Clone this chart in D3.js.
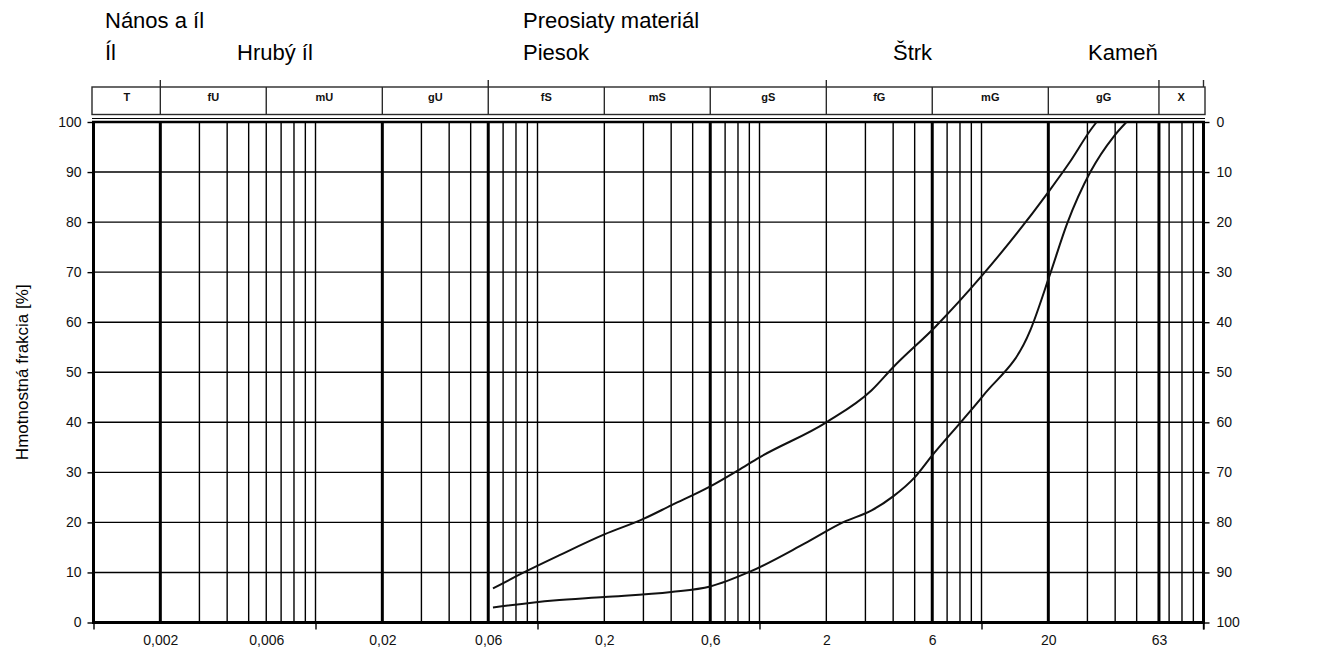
<!DOCTYPE html>
<html>
<head>
<meta charset="utf-8">
<script src="https://cdn.jsdelivr.net/npm/d3@7"></script>
<style>
  html, body { margin: 0; padding: 0; background: #fff; }
  svg { display: block; font-family: "Liberation Sans", Arial, sans-serif; }
</style>
</head>
<body>
<svg id="chart" width="1341" height="653"></svg>
<script>
// Grain size (mm) tick values and their printed labels
const sizeTicks = [0.002, 0.006, 0.02, 0.06, 0.2, 0.6, 2, 6, 20, 63];
const sizeTickLabels = ["0,002", "0,006", "0,02", "0,06", "0,2", "0,6", "2", "6", "20", "63"];

// Fraction classes shown in the header strip and their boundaries
const fractionClasses = ["T", "fU", "mU", "gU", "fS", "mS", "gS", "fG", "mG", "gG", "X"];
const classBounds = [0.001, 0.002, 0.006, 0.02, 0.06, 0.2, 0.6, 2, 6, 20, 63, 100];
const groupBounds = [0.002, 0.06, 2, 63, 100];

// Logarithmic grid lines
const majorLines = [0.002, 0.02, 0.06, 0.6, 6, 20, 63];
const minorLines = [
  0.003, 0.004, 0.005, 0.006, 0.007, 0.008, 0.009, 0.01,
  0.03, 0.04, 0.05, 0.07, 0.08, 0.09, 0.1,
  0.2, 0.3, 0.4, 0.5, 0.7, 0.8, 0.9, 1,
  2, 3, 4, 5, 7, 8, 9, 10,
  30, 40, 50, 70, 80, 90
];
const decadeTicks = [0.001, 0.01, 0.1, 1, 10, 100];

// Percent axis
const percentTicks = [0, 10, 20, 30, 40, 50, 60, 70, 80, 90, 100];

// Grading curves: grain size (mm) and passing mass fraction (%)
const fineSize    = [0.063, 0.085, 0.125, 0.2, 0.3, 0.4, 0.6, 0.8, 1, 2, 3.2, 4, 6.2, 10, 20, 25, 31, 33];
const finePassing = [6.8, 9.8, 13.4, 17.6, 20.7, 23.4, 27.2, 30.4, 33.0, 40.0, 46.4, 51, 59.1, 69.2, 86, 92, 98.4, 100];

const coarseSize    = [0.063, 0.118, 0.2, 0.4, 0.6, 0.9, 1.6, 2.4, 3.2, 4, 5, 6, 8.2, 10.2, 16.6, 20.4, 24.3, 31, 39.4, 45];
const coarsePassing = [3.0, 4.4, 5.1, 6.1, 7.2, 10.1, 15.8, 20.1, 22.4, 25.2, 29.0, 33.4, 40.4, 45.4, 58.4, 69.7, 79.7, 90.1, 97.1, 100];

// Soil group names above the chart
const groupTitlesTop = ["Nános a íl", "Preosiaty materiál"];
const groupTitlesBottom = ["Íl", "Hrubý íl", "Piesok", "Štrk", "Kameň"];
const yTitle = "Hmotnostná frakcia [%]";

const svg = d3.select("#chart");

const x = d3.scaleLog().domain([0.001, 100]).range([93.5, 1203.5]);
const y = d3.scaleLinear().domain([0, 100]).range([622.5, 122]);
const yRight = d3.scaleLinear().domain([100, 0]).range([622.5, 122]);

const plotTop = y(100), plotBottom = y(0);
const plotLeft = x(0.001), plotRight = x(100);

// ---- header strip with fraction classes
const hdrTop = 87, hdrBottom = 114.5;
const hdr = svg.append("g").attr("stroke", "#2a2a2a").attr("stroke-width", 1.4);
hdr.append("rect")
  .attr("x", plotLeft - 1.5).attr("y", hdrTop)
  .attr("width", plotRight - plotLeft + 3).attr("height", hdrBottom - hdrTop)
  .attr("fill", "none");
hdr.selectAll("line.sep")
  .data(classBounds.slice(1, -1))
  .join("line")
  .attr("x1", d => x(d)).attr("x2", d => x(d))
  .attr("y1", hdrTop).attr("y2", hdrBottom);
hdr.selectAll("line.grp")
  .data(groupBounds)
  .join("line")
  .attr("x1", d => x(d)).attr("x2", d => x(d))
  .attr("y1", hdrTop - 7).attr("y2", hdrTop);

svg.append("g").selectAll("text")
  .data(fractionClasses)
  .join("text")
  .attr("x", (d, i) => (x(classBounds[i]) + x(classBounds[i + 1])) / 2)
  .attr("y", 101)
  .attr("text-anchor", "middle")
  .attr("font-size", 11)
  .attr("font-weight", "bold")
  .attr("fill", "#111")
  .text(d => d);

// ---- grid
const grid = svg.append("g").attr("stroke", "#000");
grid.selectAll("line.minor")
  .data(minorLines)
  .join("line")
  .attr("x1", d => x(d)).attr("x2", d => x(d))
  .attr("y1", plotTop).attr("y2", plotBottom)
  .attr("stroke-width", 1.4);
grid.selectAll("line.major")
  .data(majorLines)
  .join("line")
  .attr("x1", d => x(d)).attr("x2", d => x(d))
  .attr("y1", plotTop).attr("y2", plotBottom)
  .attr("stroke-width", 3);
grid.selectAll("line.h")
  .data(percentTicks.slice(1, -1))
  .join("line")
  .attr("x1", plotLeft).attr("x2", plotRight)
  .attr("y1", d => y(d)).attr("y2", d => y(d))
  .attr("stroke-width", 1.4);

// ---- frame
const frame = svg.append("g").attr("stroke", "#000").attr("fill", "none");
frame.append("line").attr("x1", plotLeft - 1.5).attr("x2", plotRight + 1.5)
  .attr("y1", plotTop - 3.5).attr("y2", plotTop - 3.5).attr("stroke-width", 1.2);
frame.append("line").attr("x1", plotLeft - 1.5).attr("x2", plotRight + 1.5)
  .attr("y1", plotTop).attr("y2", plotTop).attr("stroke-width", 2.6);
frame.append("line").attr("x1", plotLeft - 1.5).attr("x2", plotRight + 1.5)
  .attr("y1", plotBottom).attr("y2", plotBottom).attr("stroke-width", 3);
frame.append("line").attr("x1", plotLeft).attr("x2", plotLeft)
  .attr("y1", plotTop).attr("y2", plotBottom).attr("stroke-width", 3);
frame.append("line").attr("x1", plotRight).attr("x2", plotRight)
  .attr("y1", plotTop).attr("y2", plotBottom).attr("stroke-width", 3);

// ---- axes
const tickFont = 14;

const xAxis = d3.axisBottom(x).tickValues(sizeTicks).tickSize(0).tickPadding(13)
  .tickFormat((d, i) => sizeTickLabels[i]);
const gx = svg.append("g").attr("transform", `translate(0,${plotBottom})`).call(xAxis);
gx.select(".domain").remove();
gx.selectAll("text").attr("font-size", tickFont).attr("fill", "#111")
  .attr("font-family", "'Liberation Sans', Arial, sans-serif");

const xMarks = d3.axisBottom(x).tickValues(decadeTicks).tickSize(7).tickFormat("");
const gxm = svg.append("g").attr("transform", `translate(0,${plotBottom})`).call(xMarks);
gxm.select(".domain").remove();
gxm.selectAll("line").attr("stroke", "#000").attr("stroke-width", 1.4);

const yAxis = d3.axisLeft(y).tickValues(percentTicks).tickSize(6).tickPadding(6);
const gy = svg.append("g").attr("transform", `translate(${plotLeft},0)`).call(yAxis);
gy.select(".domain").remove();
gy.selectAll("line").attr("stroke", "#000").attr("stroke-width", 1.4);
gy.selectAll("text").attr("font-size", tickFont).attr("fill", "#111")
  .attr("font-family", "'Liberation Sans', Arial, sans-serif");

const yAxisR = d3.axisRight(yRight).tickValues(percentTicks).tickSize(6).tickPadding(7);
const gyr = svg.append("g").attr("transform", `translate(${plotRight},0)`).call(yAxisR);
gyr.select(".domain").remove();
gyr.selectAll("line").attr("stroke", "#000").attr("stroke-width", 1.4);
gyr.selectAll("text").attr("font-size", tickFont).attr("fill", "#111")
  .attr("font-family", "'Liberation Sans', Arial, sans-serif");

// bottom-right corner mark
svg.append("line")
  .attr("x1", plotRight).attr("x2", plotRight)
  .attr("y1", plotBottom).attr("y2", plotBottom + 7)
  .attr("stroke", "#000").attr("stroke-width", 1.4);

// ---- grading curves
const line = d3.line()
  .x(d => x(d[0]))
  .y(d => y(d[1]))
  .curve(d3.curveMonotoneX);

const curves = [
  d3.zip(fineSize, finePassing),
  d3.zip(coarseSize, coarsePassing)
];
svg.append("g").selectAll("path")
  .data(curves)
  .join("path")
  .attr("d", line)
  .attr("fill", "none")
  .attr("stroke", "#111")
  .attr("stroke-width", 2);

// ---- titles
const titleFont = 22;
const topRowX = [105, 523];
const bottomRowX = [105, 237, 523, 893, 1088];
svg.append("g").selectAll("text")
  .data(groupTitlesTop)
  .join("text")
  .attr("x", (d, i) => topRowX[i]).attr("y", 28)
  .attr("font-size", titleFont).attr("fill", "#000")
  .text(d => d);
svg.append("g").selectAll("text")
  .data(groupTitlesBottom)
  .join("text")
  .attr("x", (d, i) => bottomRowX[i]).attr("y", 60)
  .attr("font-size", titleFont).attr("fill", "#000")
  .text(d => d);

svg.append("text")
  .attr("transform", `translate(28,${(plotTop + plotBottom) / 2}) rotate(-90)`)
  .attr("text-anchor", "middle")
  .attr("font-size", 17)
  .attr("fill", "#000")
  .text(yTitle);
</script>
</body>
</html>
